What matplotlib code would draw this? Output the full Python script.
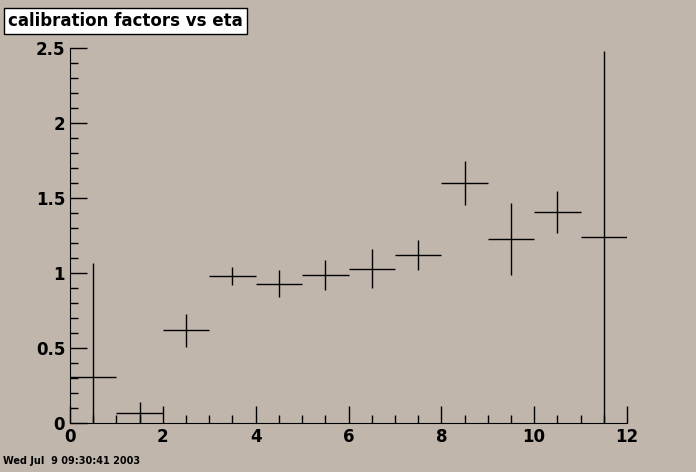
import matplotlib
matplotlib.use("Agg")
import matplotlib.pyplot as plt
from matplotlib.ticker import MultipleLocator

centers = [0.5,1.5,2.5,3.5,4.5,5.5,6.5,7.5,8.5,9.5,10.5,11.5]
values = [0.31,0.07,0.62,0.98,0.93,0.99,1.03,1.12,1.60,1.23,1.41,1.24]
errors = [0.76,0.07,0.11,0.06,0.09,0.10,0.13,0.10,0.15,0.24,0.14,1.24]
title = "calibration factors vs eta"
stamp = "Wed Jul  9 09:30:41 2003"

bg = "#c0b6ac"
fig = plt.figure(figsize=(6.96,4.72), dpi=100, facecolor=bg)
ax = fig.add_axes([70/696, 49/472, 557/696, 375/472], facecolor=bg)
ax.errorbar(centers, values, xerr=0.5, yerr=errors, fmt='none', ecolor='black', elinewidth=1, capsize=0)
ax.set_xlim(0,12); ax.set_ylim(0,2.5)
ax.spines['top'].set_visible(False); ax.spines['right'].set_visible(False)
ax.xaxis.set_major_locator(MultipleLocator(2)); ax.xaxis.set_minor_locator(MultipleLocator(0.5))
ax.yaxis.set_major_locator(MultipleLocator(0.5)); ax.yaxis.set_minor_locator(MultipleLocator(0.1))
ax.tick_params(direction='in', which='major', length=12, labelsize=12, width=1)
ax.tick_params(direction='in', which='minor', length=6, width=1)
for lab in ax.get_xticklabels()+ax.get_yticklabels():
    lab.set_fontweight('bold')
ax.set_yticks([0,0.5,1,1.5,2,2.5]); ax.set_yticklabels(["0","0.5","1","1.5","2","2.5"])
fig.text(0.012, 0.975, title, fontsize=12, fontweight='bold', va='top', ha='left',
         bbox=dict(boxstyle='square,pad=0.25', facecolor='white', edgecolor='black'))
fig.text(0.005, 0.012, stamp, fontsize=7, fontweight='bold', ha='left', va='bottom')
fig.savefig("out.png", dpi=100, facecolor=bg)
